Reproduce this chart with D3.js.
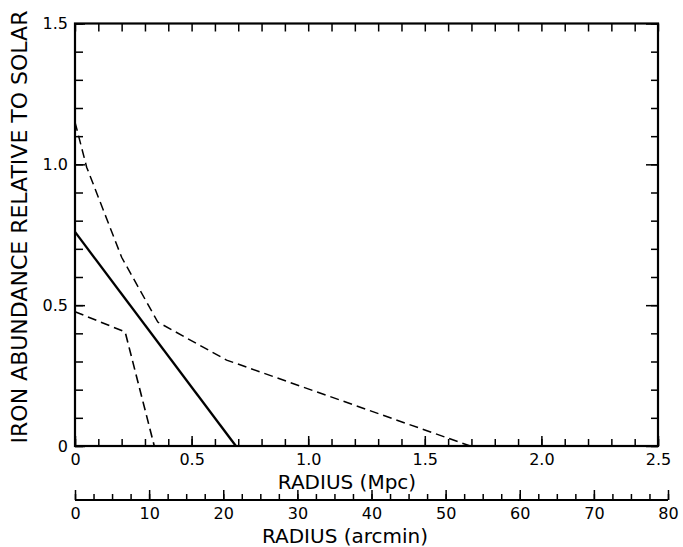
<!DOCTYPE html>
<html>
<head>
<meta charset="utf-8">
<script src="https://cdn.jsdelivr.net/npm/d3@7"></script>
<style>
  body { margin: 0; background: #fff; }
  svg { display: block; font-family: "DejaVu Sans", sans-serif; }
</style>
</head>
<body>
<div id="svg-holder"></div>
<script>
// iron abundance profiles (radius in Mpc, abundance rel. to solar)
let solidX = [0, 0.69];
let solidY = [0.76, 0];

let upperDashX = [0, 0.05, 0.2, 0.355, 0.65, 1.695];
let upperDashY = [1.15, 0.99, 0.67, 0.44, 0.305, 0];

let lowerDashX = [0, 0.215, 0.34];
let lowerDashY = [0.477, 0.405, 0];

let mpcTicks = [0, 0.5, 1.0, 1.5, 2.0, 2.5];
let mpcLabels = ["0", "0.5", "1.0", "1.5", "2.0", "2.5"];
let yTicks = [0, 0.5, 1.0, 1.5];
let yLabels = ["0", "0.5", "1.0", "1.5"];
let arcTicks = [0, 10, 20, 30, 40, 50, 60, 70, 80];

var width = 683, height = 547;

let svg = d3.select("#svg-holder")
    .append("svg")
    .attr("width", width)
    .attr("height", height);

let x = d3.scaleLinear().domain([0, 2.5]).range([75, 658]);
let y = d3.scaleLinear().domain([0, 1.5]).range([446, 23.5]);
let arc = d3.scaleLinear().domain([0, 80]).range([75, 668]);

let minorX = d3.range(0, 2.501, 0.1);
let minorY = d3.range(0, 1.501, 0.1);
let minorArc = d3.range(0, 80.01, 2.5);

function clean(g, fs) {
    g.select(".domain").remove();
    g.selectAll(".tick line").attr("stroke", "#000").attr("stroke-width", 1.5);
    g.selectAll(".tick text")
        .attr("fill", "#000")
        .style("font-size", fs + "px")
        .style("font-family", "DejaVu Sans, sans-serif");
}

// minor + major ticks, bottom
svg.append("g").attr("transform", "translate(0," + y(0) + ")")
    .call(d3.axisBottom(x).tickValues(minorX).tickSize(-7).tickFormat(""))
    .call(g => clean(g, 16));
svg.append("g").attr("transform", "translate(0," + y(0) + ")")
    .call(d3.axisBottom(x).tickValues(mpcTicks).tickSize(-10).tickPadding(8)
        .tickFormat((d, i) => mpcLabels[i]))
    .call(g => clean(g, 16));

// top
svg.append("g").attr("transform", "translate(0," + y(1.5) + ")")
    .call(d3.axisTop(x).tickValues(minorX).tickSize(-8).tickFormat(""))
    .call(g => clean(g, 16));

// left
svg.append("g").attr("transform", "translate(" + x(0) + ",0)")
    .call(d3.axisLeft(y).tickValues(minorY).tickSize(-8).tickFormat(""))
    .call(g => clean(g, 16));
svg.append("g").attr("transform", "translate(" + x(0) + ",0)")
    .call(d3.axisLeft(y).tickValues(yTicks).tickSize(-10).tickPadding(7)
        .tickFormat((d, i) => yLabels[i]))
    .call(g => clean(g, 16));

// right
svg.append("g").attr("transform", "translate(" + x(2.5) + ",0)")
    .call(d3.axisRight(y).tickValues(minorY).tickSize(-7).tickFormat(""))
    .call(g => clean(g, 16));
svg.append("g").attr("transform", "translate(" + x(2.5) + ",0)")
    .call(d3.axisRight(y).tickValues(yTicks).tickSize(-12).tickFormat(""))
    .call(g => clean(g, 16));

// frame
svg.append("rect")
    .attr("x", x(0)).attr("y", y(1.5))
    .attr("width", x(2.5) - x(0)).attr("height", y(0) - y(1.5))
    .attr("fill", "none").attr("stroke", "#000").attr("stroke-width", 2.2);

// arcmin axis
let arcY = 500;
svg.append("g").attr("transform", "translate(0," + arcY + ")")
    .call(d3.axisBottom(arc).tickValues(minorArc).tickSize(-6).tickFormat(""))
    .call(g => clean(g, 16));
svg.append("g").attr("transform", "translate(0," + arcY + ")")
    .call(d3.axisBottom(arc).tickValues(arcTicks).tickSize(-10).tickPadding(8))
    .call(g => clean(g, 16));
svg.append("line")
    .attr("x1", arc(0)).attr("x2", arc(80))
    .attr("y1", arcY).attr("y2", arcY)
    .attr("stroke", "#000").attr("stroke-width", 2);

// profiles
let line = d3.line().x(d => x(d[0])).y(d => y(d[1]));

svg.append("path")
    .datum(d3.zip(solidX, solidY))
    .attr("d", line)
    .attr("fill", "none").attr("stroke", "#000").attr("stroke-width", 2.3);

svg.append("path")
    .datum(d3.zip(upperDashX, upperDashY))
    .attr("d", line)
    .attr("fill", "none").attr("stroke", "#000").attr("stroke-width", 1.5)
    .attr("stroke-dasharray", "9,5");

svg.append("path")
    .datum(d3.zip(lowerDashX, lowerDashY))
    .attr("d", line)
    .attr("fill", "none").attr("stroke", "#000").attr("stroke-width", 1.6)
    .attr("stroke-dasharray", "9,5");

// titles
svg.append("text")
    .attr("x", 347).attr("y", 489)
    .attr("text-anchor", "middle")
    .style("font-size", "20px")
    .text("RADIUS (Mpc)");

svg.append("text")
    .attr("x", 345).attr("y", 543)
    .attr("text-anchor", "middle")
    .style("font-size", "20px")
    .text("RADIUS (arcmin)");

svg.append("text")
    .attr("transform", "translate(27,227) rotate(-90)")
    .attr("text-anchor", "middle")
    .style("font-size", "22px")
    .text("IRON ABUNDANCE RELATIVE TO SOLAR");
</script>
</body>
</html>
